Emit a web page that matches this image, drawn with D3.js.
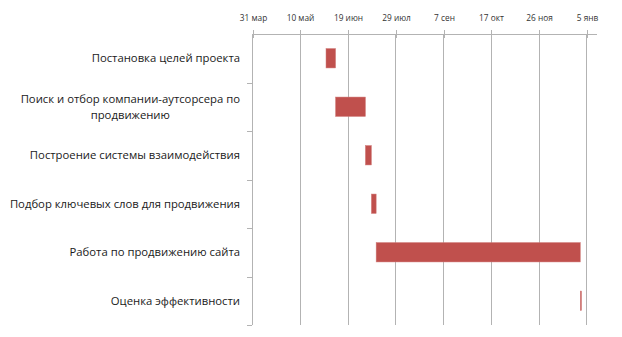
<!DOCTYPE html>
<html>
<head>
<meta charset="utf-8">
<script src="https://cdn.jsdelivr.net/npm/d3@7"></script>
<style>
  body { margin: 0; background: #fff; }
  text { font-family: "Open Sans", "Liberation Sans", sans-serif; fill: #1a1a1a; }
</style>
</head>
<body>
<svg id="chart" width="622" height="337"></svg>
<script>
// задачи проекта
const tasks = [
  'Постановка целей проекта',
  'Поиск и отбор компании-аутсорсера по продвижению',
  'Построение системы взаимодействия',
  'Подбор ключевых слов для продвижения',
  'Работа по продвижению сайта',
  'Оценка эффективности'
];
const startDates = ['2013-06-01', '2013-06-09', '2013-07-04', '2013-07-09', '2013-07-13', '2013-12-31'];
const endDates   = ['2013-06-09', '2013-07-04', '2013-07-09', '2013-07-13', '2013-12-31', '2014-01-01'];

// ось времени
const tickDates  = ['2013-03-31', '2013-05-10', '2013-06-19', '2013-07-29', '2013-09-07', '2013-10-17', '2013-11-26', '2014-01-05'];
const tickLabels = ['31 мар', '10 май', '19 июн', '29 июл', '7 сен', '17 окт', '26 ноя', '5 янв'];
const domainDates = ['2013-03-31', '2014-01-14'];

const parse = d3.timeParse('%Y-%m-%d');
const margin = { top: 34, left: 252, right: 25, bottom: 12 };
const svg = d3.select('#chart');
const width = 622 - margin.left - margin.right;
const height = 337 - margin.top - margin.bottom;

const g = svg.append('g')
  .attr('transform', 'translate(' + margin.left + ',' + margin.top + ')');

const x = d3.scaleTime()
  .domain(domainDates.map(parse))
  .range([0, width]);

const y = d3.scaleBand()
  .domain(tasks)
  .range([0, height])
  .padding(0);

const gridColor = '#b3b3b3';

// сетка
g.selectAll('line.grid')
  .data(tickDates.map(parse))
  .enter().append('line')
  .attr('class', 'grid')
  .attr('x1', d => Math.round(x(d)) + 0.5)
  .attr('x2', d => Math.round(x(d)) + 0.5)
  .attr('y1', 0)
  .attr('y2', height)
  .attr('stroke', gridColor);

// верхняя ось
const xAxis = d3.axisTop(x)
  .tickValues(tickDates.map(parse))
  .tickSize(4)
  .tickPadding(9)
  .tickFormat((d, i) => tickLabels[i]);

const ax = g.append('g').call(xAxis);
ax.select('.domain').attr('stroke', gridColor).attr('d', 'M0,0.5H' + width);
ax.selectAll('.tick line').attr('stroke', gridColor).attr('y2', -4).attr('y1', 4);
ax.selectAll('.tick').attr('transform', function () {
  const t = d3.select(this).attr('transform');
  const m = /translate\(([^,]+),/.exec(t);
  return 'translate(' + (Math.round(+m[1]) + 0.5) + ',0)';
});
ax.selectAll('.tick text')
  .style('font-size', '8.3px')
  .style('fill', '#333')
  .style('font-family', '"Open Sans", "Liberation Sans", sans-serif');

// левая ось
const boundaries = tasks.map(t => y(t)).concat([height]);
g.selectAll('line.ytick')
  .data(boundaries.slice(1))
  .enter().append('line')
  .attr('x1', -5).attr('x2', 0)
  .attr('y1', d => Math.round(d) + 0.5)
  .attr('y2', d => Math.round(d) + 0.5)
  .attr('stroke', gridColor);

// полосы
const barH = y.bandwidth() * 0.4;
g.selectAll('rect.bar')
  .data(tasks)
  .enter().append('rect')
  .attr('class', 'bar')
  .attr('x', (d, i) => x(parse(startDates[i])))
  .attr('width', (d, i) => Math.max(1.2, x(parse(endDates[i])) - x(parse(startDates[i]))))
  .attr('y', d => y(d) + (y.bandwidth() - barH) / 2)
  .attr('height', barH)
  .attr('fill', '#c0504d')
  .attr('stroke', '#d07a78')
  .attr('stroke-width', 0.5);

// подписи задач
const labelRight = -12;
const fontSize = 11.3;
const maxWidth = 240;
tasks.forEach(t => {
  const cy = y(t) + y.bandwidth() / 2;
  const probe = g.append('text').style('font-size', fontSize + 'px').text(t);
  const w = probe.node().getComputedTextLength();
  probe.remove();
  if (w <= maxWidth) {
    g.append('text')
      .attr('x', labelRight)
      .attr('y', cy)
      .attr('dy', '0.35em')
      .attr('text-anchor', 'end')
      .style('font-size', fontSize + 'px')
      .text(t);
  } else {
    const words = t.split(' ');
    const line1 = words.slice(0, -1).join(' ');
    const line2 = words[words.length - 1];
    const p = g.append('text').style('font-size', fontSize + 'px').text(line1);
    const w1 = p.node().getComputedTextLength();
    p.remove();
    const cx = labelRight - w1 / 2;
    g.append('text')
      .attr('x', cx).attr('y', cy - 7.5).attr('dy', '0.35em')
      .attr('text-anchor', 'middle')
      .style('font-size', fontSize + 'px')
      .text(line1);
    g.append('text')
      .attr('x', cx).attr('y', cy + 8).attr('dy', '0.35em')
      .attr('text-anchor', 'middle')
      .style('font-size', fontSize + 'px')
      .text(line2);
  }
});
</script>
</body>
</html>
